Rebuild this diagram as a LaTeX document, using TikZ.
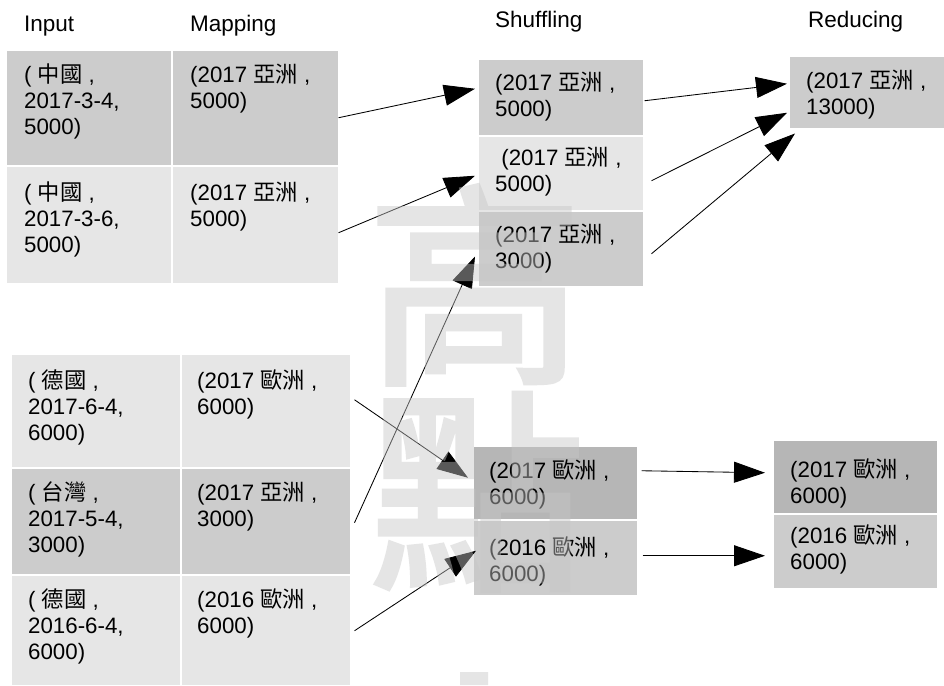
\documentclass[tikz,border=0pt]{standalone}
\usepackage{fontspec}
\setmainfont{Liberation Sans}
\newfontfamily\cjk{Noto Sans CJK TC}
\newfontfamily\cjkwm[FakeBold=2.5]{Noto Sans CJK TC}
\usetikzlibrary{arrows.meta}
\definecolor{cellC}{RGB}{204,204,204}
\definecolor{cellL}{RGB}{230,230,230}
\definecolor{cellD}{RGB}{182,182,182}
\definecolor{wmark}{RGB}{198,198,198}
\newcommand{\fs}{\rule{0pt}{21pt}}
\begin{document}
\begin{tikzpicture}[x=1pt,y=-1pt,
  cell/.style={draw=white,line width=1.5pt,anchor=north west,inner sep=0pt},
  txt/.style={anchor=north west,inner sep=0pt,align=left,font=\fontsize{22.3}{26}\selectfont},
  hdr/.style={anchor=base west,inner sep=0pt,font=\fontsize{22.5}{26}\selectfont},
  conn/.style={line width=0.85pt,-{Triangle[length=31pt,width=21pt]}},
  wm/.style={inner sep=0pt,text=wmark,font=\cjkwm\fontsize{215}{215}\selectfont}]
\useasboundingbox[fill=white] (0,0) rectangle (944,685);
% headers
\node[hdr] (hin) at (24,32) {Input};
\node[hdr] (hmap) at (190,32) {Mapping};
\node[hdr] (hsh) at (495,28) {Shuffling};
\node[hdr] (hred) at (808,28) {Reducing};
% top table
\node[cell,fill=cellC,minimum width=166pt,minimum height=115pt] (i1) at (5,50) {};
\node[cell,fill=cellC,minimum width=167pt,minimum height=115pt] (m1) at (171,50) {};
\node[cell,fill=cellL,minimum width=166pt,minimum height=118pt] (i2) at (5,165) {};
\node[cell,fill=cellL,minimum width=167pt,minimum height=118pt] (m2) at (171,165) {};
% bottom table
\node[cell,fill=cellL,minimum width=170pt,minimum height=114pt] (i3) at (10,353) {};
\node[cell,fill=cellL,minimum width=170pt,minimum height=114pt] (m3) at (180,353) {};
\node[cell,fill=cellC,minimum width=170pt,minimum height=107pt] (i4) at (10,467) {};
\node[cell,fill=cellC,minimum width=170pt,minimum height=107pt] (m4) at (180,467) {};
\node[cell,fill=cellL,minimum width=170pt,minimum height=111pt] (i5) at (10,574) {};
\node[cell,fill=cellL,minimum width=170pt,minimum height=111pt] (m5) at (180,574) {};
% shuffling
\node[cell,fill=cellC,minimum width=166pt,minimum height=76pt] (s1) at (477,59) {};
\node[cell,fill=cellL,minimum width=166pt,minimum height=75pt] (s2) at (477,135) {};
\node[cell,fill=cellC,minimum width=166pt,minimum height=76pt] (s3) at (477,210) {};
\node[cell,fill=cellD,minimum width=165pt,minimum height=74pt] (s4) at (472,445) {};
\node[cell,fill=cellC,minimum width=165pt,minimum height=76pt] (s5) at (472,519) {};
% reducing
\node[cell,fill=cellC,minimum width=156pt,minimum height=72pt] (r1) at (788,56) {};
\node[cell,fill=cellD,minimum width=165pt,minimum height=74pt] (r2) at (772,439) {};
\node[cell,fill=cellC,minimum width=165pt,minimum height=75pt] (r3) at (772,513) {};
% texts
\node[txt] (ti1) at (24,61) {\fs( {\cjk 中國} ,\\2017-3-4,\\5000)};
\node[txt] (tm1) at (190,61) {\fs(2017 {\cjk 亞洲} ,\\5000)};
\node[txt] (ti2) at (24,179) {\fs( {\cjk 中國} ,\\2017-3-6,\\5000)};
\node[txt] (tm2) at (190,179) {\fs(2017 {\cjk 亞洲} ,\\5000)};
\node[txt] (ti3) at (28,367) {\fs( {\cjk 德國} ,\\2017-6-4,\\6000)};
\node[txt] (tm3) at (197,367) {\fs(2017 {\cjk 歐洲} ,\\6000)};
\node[txt] (ti4) at (28,479) {\fs( {\cjk 台灣} ,\\2017-5-4,\\3000)};
\node[txt] (tm4) at (197,479) {\fs(2017 {\cjk 亞洲} ,\\3000)};
\node[txt] (ti5) at (28,586) {\fs( {\cjk 德國} ,\\2016-6-4,\\6000)};
\node[txt] (tm5) at (197,586) {\fs(2016 {\cjk 歐洲} ,\\6000)};
\node[txt] (ts1) at (495,69) {\fs(2017 {\cjk 亞洲} ,\\5000)};
\node[txt] (ts2) at (495,144) {\fs\ (2017 {\cjk 亞洲} ,\\5000)};
\node[txt] (ts3) at (495,221) {\fs(2017 {\cjk 亞洲} ,\\3000)};
\node[txt] (ts4) at (489,457) {\fs(2017 {\cjk 歐洲} ,\\6000)};
\node[txt] (ts5) at (489,534) {\fs(2016 {\cjk 歐洲} ,\\6000)};
\node[txt] (tr1) at (806,67) {\fs(2017 {\cjk 亞洲} ,\\13000)};
\node[txt] (tr2) at (790,456) {\fs(2017 {\cjk 歐洲} ,\\6000)};
\node[txt] (tr3) at (790,522) {\fs(2016 {\cjk 歐洲} ,\\6000)};
% connectors
\draw[conn] ([shift={(-1,9.5)}]m1.east) -- ([shift={(-2,-9)}]s1.west);
\draw[conn] ([shift={(-1,8)}]m2.east) -- ([shift={(-2,2.5)}]s2.west);
\draw[conn] ([shift={(0,3)}]s1.east) -- ([shift={(-1,-9)}]r1.west);
\draw[conn] ([shift={(7,7.5)}]s2.east) -- ([shift={(-1,20)}]r1.west);
\draw[conn] ([shift={(7,5)}]s3.east) -- ([shift={(7,4)}]r1.south west);
\draw[conn] ([shift={(3,1.5)}]m4.east) -- ([shift={(-2,-31)}]s3.south west);
\draw[conn] ([shift={(3,-11)}]m3.east) -- ([shift={(-4,-5)}]s4.west);
\draw[conn] ([shift={(3,0.5)}]m5.east) -- ([shift={(4,-7)}]s5.west);
\draw[conn] ([shift={(3,-12)}]s4.east) -- ([shift={(-7,-4)}]r2.west);
\draw[conn] ([shift={(4,-2)}]s5.east) -- ([shift={(-7,4.5)}]r3.west);
% watermark
\begin{scope}[transparency group,opacity=0.45]
\node[wm] (w1) at (475,285) {高};
\node[wm] (w2) at (477,492) {點};
\fill[wmark] (460,672) rectangle (488,685);
\end{scope}
\end{tikzpicture}
\end{document}
